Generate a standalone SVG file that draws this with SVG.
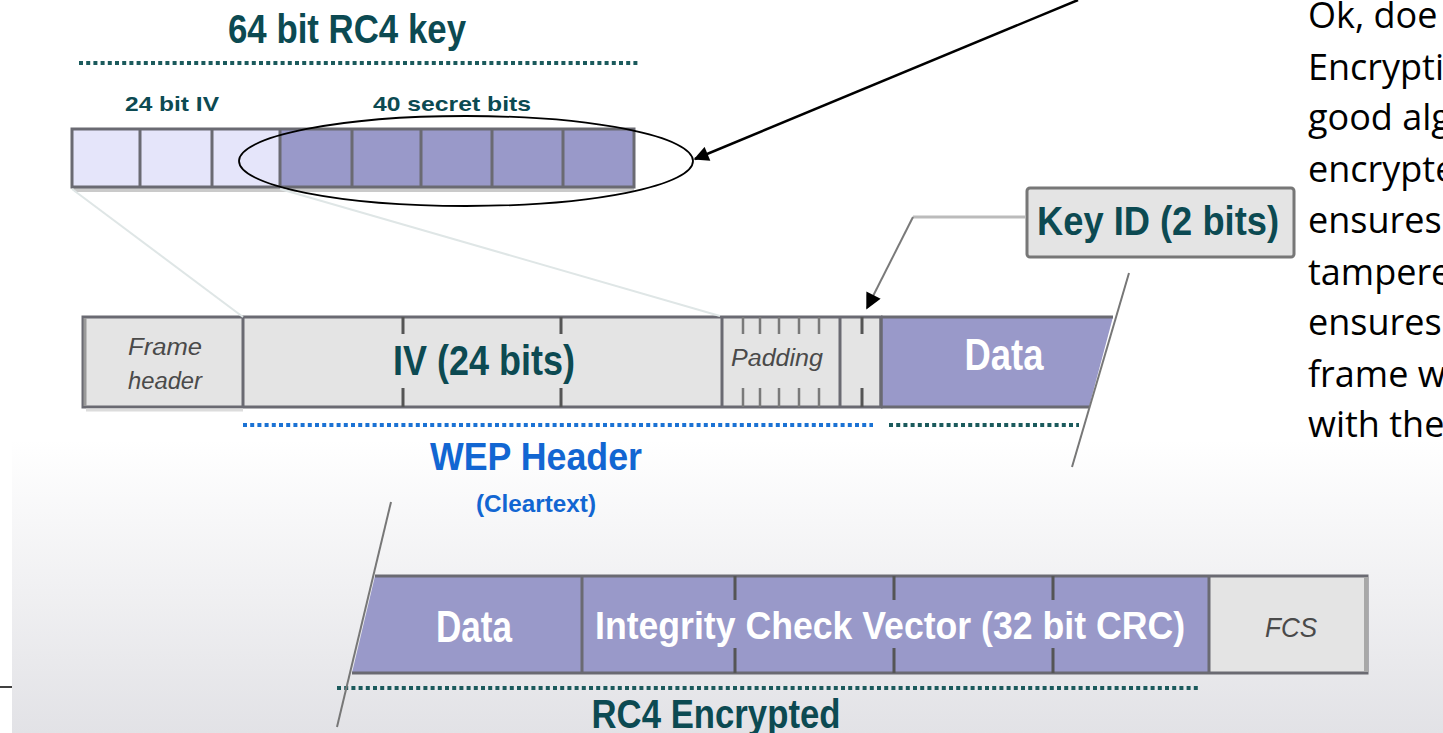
<svg xmlns="http://www.w3.org/2000/svg" width="1443" height="733" viewBox="0 0 1443 733">
<defs>
<linearGradient id="bg" x1="0" y1="0" x2="0" y2="1">
<stop offset="0" stop-color="#ffffff"/>
<stop offset="1" stop-color="#e2e2e6"/>
</linearGradient>
<marker id="ah" viewBox="0 0 10 10" refX="9" refY="5" markerWidth="7" markerHeight="6" markerUnits="strokeWidth" orient="auto">
<path d="M0,0 L10,5 L0,10 z" fill="#000"/>
</marker>
<marker id="ah2" viewBox="0 0 10 10" refX="9" refY="5" markerWidth="9" markerHeight="8" markerUnits="strokeWidth" orient="auto">
<path d="M0,0 L10,5 L0,10 z" fill="#000"/>
</marker>
<style>
.cell{stroke:#6a6a72;stroke-width:3}
.lav{fill:#e5e5fa}
.pur{fill:#9999c9}
.gry{fill:#e4e4e4}
.tick{stroke:#555;stroke-width:3}
.ttk{stroke:#7a7a7a;stroke-width:2.5}
.dotT{stroke:#1b5a5c;stroke-width:4;stroke-dasharray:4 3.2}
.dotB{stroke:#1b72d4;stroke-width:4;stroke-dasharray:4 3.2}
.teal{font-family:"Liberation Sans",Arial,sans-serif;font-weight:bold;fill:#0c4a52}
.wht{font-family:"Liberation Sans",Arial,sans-serif;font-weight:bold;fill:#ffffff}
.blu{font-family:"Liberation Sans",Arial,sans-serif;font-weight:bold;fill:#1266d2}
.ital{font-family:"Liberation Sans",Arial,sans-serif;font-style:italic;fill:#4a4a4a}
.body{font-family:"Open Sans","Liberation Sans",sans-serif;font-size:36px;fill:#000}
</style>
</defs>
<rect width="1443" height="733" fill="#ffffff"/>
<rect x="12" y="440" width="1431" height="293" fill="url(#bg)"/>
<line x1="0" y1="687" x2="12" y2="687" stroke="#000" stroke-width="1.5"/>

<g id="key">
<text class="teal" x="347" y="43" font-size="40" text-anchor="middle" textLength="238" lengthAdjust="spacingAndGlyphs">64 bit RC4 key</text>
<line class="dotT" x1="79" y1="63" x2="638" y2="63"/>
<text class="teal" x="172" y="111" font-size="21" text-anchor="middle" textLength="94" lengthAdjust="spacingAndGlyphs">24 bit IV</text>
<text class="teal" x="452" y="111" font-size="21" text-anchor="middle" textLength="158" lengthAdjust="spacingAndGlyphs">40 secret bits</text>
<line x1="74" y1="190" x2="634" y2="190" stroke="#cacaca" stroke-width="4"/>
<rect class="lav" x="72" y="129" width="208" height="58"/>
<rect class="pur" x="280" y="129" width="354" height="58"/>
<rect x="72" y="129" width="562" height="58" fill="none" class="cell"/>
<path class="cell" d="M140,129V187M212,129V187M280,129V187M352,129V187M421,129V187M492,129V187M563,129V187"/>
<ellipse cx="466" cy="161" rx="227" ry="45" fill="none" stroke="#000" stroke-width="1.8"/>
</g>

<g id="frame">
<rect class="gry" x="83" y="317" width="798" height="90"/>
<path class="pur" d="M881,317 H1113 L1089,407 H881 z"/>
<path d="M881,317 H1113 M881,407 H1089" stroke="#6a6a72" stroke-width="3" fill="none"/>
<rect x="83" y="317" width="798" height="90" fill="none" class="cell"/>
<line x1="85" y1="318" x2="85" y2="406" stroke="#9a9a9a" stroke-width="3"/>
<line x1="86" y1="410" x2="243" y2="410" stroke="#dcdcdc" stroke-width="3"/>
<path class="cell" d="M243,317V407M722,317V407M840,317V407M881,317V407"/>
<path class="tick" d="M403,317V334M403,388V407M561,317V334M561,388V407M862,317V334M862,388V407"/>
<path class="ttk" d="M743,317V334M743,388V407M760,317V334M760,388V407M779,317V334M779,388V407M799,317V334M799,388V407M819,317V334M819,388V407"/>
<text class="ital" x="165" y="355" font-size="23" text-anchor="middle" textLength="74" lengthAdjust="spacingAndGlyphs">Frame</text>
<text class="ital" x="165" y="389" font-size="23" text-anchor="middle" textLength="74" lengthAdjust="spacingAndGlyphs">header</text>
<text class="teal" x="484" y="375" font-size="42" text-anchor="middle" textLength="182" lengthAdjust="spacingAndGlyphs">IV (24 bits)</text>
<text class="ital" x="777" y="366" font-size="23" text-anchor="middle" textLength="92" lengthAdjust="spacingAndGlyphs">Padding</text>
<text class="wht" x="1004" y="370" font-size="44" text-anchor="middle" textLength="79" lengthAdjust="spacingAndGlyphs">Data</text>
<line class="dotB" x1="243" y1="425" x2="873" y2="425"/>
<line class="dotT" x1="889" y1="425" x2="1079" y2="425"/>
<text class="blu" x="536" y="470" font-size="38" text-anchor="middle" textLength="212" lengthAdjust="spacingAndGlyphs">WEP Header</text>
<text class="blu" x="536" y="512" font-size="23" text-anchor="middle" textLength="120" lengthAdjust="spacingAndGlyphs">(Cleartext)</text>
</g>

<g id="keyid">
<rect x="1027" y="188" width="267" height="69" rx="3" fill="#e4e4e4" stroke="#777" stroke-width="3"/>
<text class="teal" x="1158" y="235" font-size="41" text-anchor="middle" textLength="242" lengthAdjust="spacingAndGlyphs">Key ID (2 bits)</text>
</g>

<g id="encrypted">
<path class="pur" d="M375,576 H1209 V673 H352 z"/>
<rect class="gry" x="1209" y="576" width="158" height="97"/>
<path d="M375,576 H1367 V673 H352" stroke="#6a6a72" stroke-width="3" fill="none"/>
<line x1="1366" y1="577" x2="1366" y2="672" stroke="#a8a8a8" stroke-width="4"/>
<path class="cell" d="M582,576V673M1209,576V673"/>
<path class="tick" d="M735,576V600M735,648V673M894,576V600M894,648V673M1053,576V600M1053,648V673"/>
<text class="wht" x="474" y="642" font-size="44" text-anchor="middle" textLength="76" lengthAdjust="spacingAndGlyphs">Data</text>
<text class="wht" x="890" y="639" font-size="38" text-anchor="middle" textLength="590" lengthAdjust="spacingAndGlyphs">Integrity Check Vector (32 bit CRC)</text>
<text class="ital" x="1291" y="637" font-size="28" text-anchor="middle" textLength="52" lengthAdjust="spacingAndGlyphs">FCS</text>
<line class="dotT" x1="337" y1="688" x2="1200" y2="688"/>
<text class="teal" x="716" y="728" font-size="41" text-anchor="middle" textLength="249" lengthAdjust="spacingAndGlyphs">RC4 Encrypted</text>
</g>

<g id="connectors" fill="none">
<line x1="72" y1="189" x2="243" y2="317" stroke="#dfe6e6" stroke-width="2"/>
<line x1="280" y1="189" x2="720" y2="316" stroke="#dfe6e6" stroke-width="2"/>
<line x1="1129" y1="273" x2="1072" y2="467" stroke="#777" stroke-width="2"/>
<line x1="391" y1="502" x2="337" y2="727" stroke="#777" stroke-width="2"/>
<path d="M1025,217 H913" stroke="#bbbbbb" stroke-width="3"/>
<path d="M913,217 L867,308" stroke="#7a7a7a" stroke-width="2" marker-end="url(#ah2)"/>
<path d="M1078,0 L695,159" stroke="#000" stroke-width="2.5" marker-end="url(#ah)"/>
</g>

<g id="notes">
<text class="body" x="1308" y="28">Ok, doe</text>
<text class="body" x="1308" y="80">Encrypti</text>
<text class="body" x="1308" y="130">good alg</text>
<text class="body" x="1308" y="182">encrypte</text>
<text class="body" x="1308" y="233">ensures</text>
<text class="body" x="1308" y="285">tampere</text>
<text class="body" x="1308" y="335">ensures</text>
<text class="body" x="1308" y="387">frame w</text>
<text class="body" x="1308" y="437">with the</text>
</g>
</svg>
